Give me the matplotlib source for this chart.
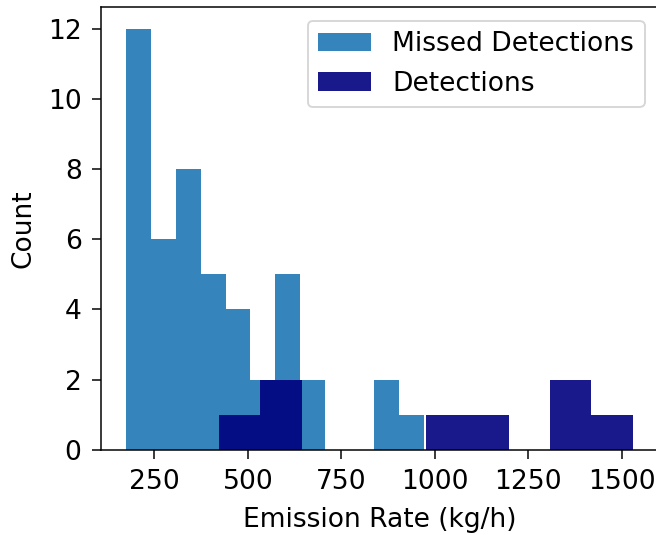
import numpy as np
import matplotlib
matplotlib.use("Agg")
import matplotlib.pyplot as plt

# histogram counts
missed_counts = [12, 6, 8, 5, 4, 2, 5, 2, 0, 0, 2, 1]
missed_range = (175, 971)
detect_counts = [1, 2, 0, 0, 0, 1, 1, 0, 2, 1]
detect_range = (423, 1529)

plt.rcParams['font.size'] = 14

dpi = 136
fig = plt.figure(figsize=(656 / dpi, 535 / dpi), dpi=dpi)
ax = fig.add_axes([0.154, 0.159, 0.849, 0.827])

# bin edges for each group
missed_edges = np.linspace(missed_range[0], missed_range[1], len(missed_counts) + 1)
detect_edges = np.linspace(detect_range[0], detect_range[1], len(detect_counts) + 1)

ax.hist(missed_edges[:-1], bins=missed_edges, weights=missed_counts,
        color='tab:blue', alpha=0.9, label='Missed Detections')
ax.hist(detect_edges[:-1], bins=detect_edges, weights=detect_counts,
        color='navy', alpha=0.9, label='Detections')

ax.set_xlabel('Emission Rate (kg/h)', labelpad=6)
ax.set_ylabel('Count', labelpad=6)
ax.set_xticks([250, 500, 750, 1000, 1250, 1500])
ax.tick_params(length=4.8, pad=5.5)
ax.legend(loc='upper right')

fig.savefig('out.png', dpi=dpi)
